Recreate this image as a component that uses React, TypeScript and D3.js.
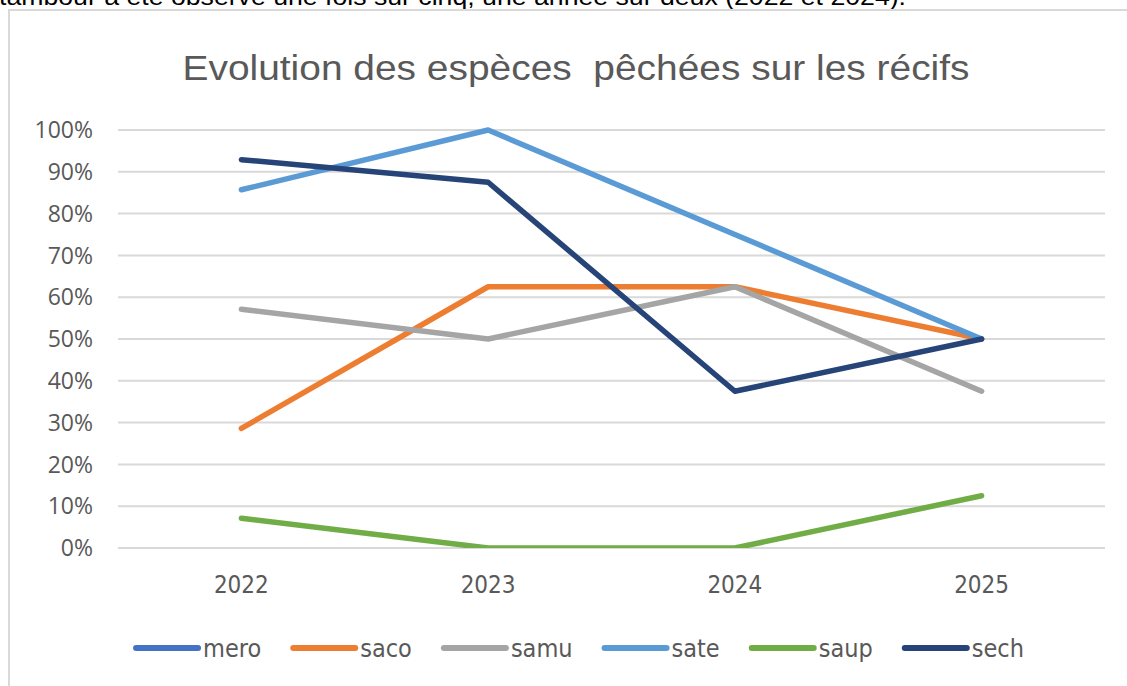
import React, { useEffect, useRef } from 'react';
import * as d3 from 'd3';

const years = ['2022', '2023', '2024', '2025'];
const seriesNames = ['mero', 'saco', 'samu', 'sate', 'saup', 'sech'];
const mero: (number | null)[] = [null, null, null, null];
const saco = [0.286, 0.625, 0.625, 0.5];
const samu = [0.571, 0.5, 0.625, 0.375];
const sate = [0.857, 1.0, 0.75, 0.5];
const saup = [0.071, 0, 0, 0.125];
const sech = [0.929, 0.875, 0.375, 0.5];
const yTicks = [0, 0.1, 0.2, 0.3, 0.4, 0.5, 0.6, 0.7, 0.8, 0.9, 1.0];
const colors = ['#4472C4', '#ED7D31', '#A5A5A5', '#5B9BD5', '#70AD47', '#264478'];

const W = 1127;
const H = 686;

const App = () => {
  const svgRef = useRef<SVGSVGElement>(null);

  useEffect(() => {
    const svg = d3.select(svgRef.current);
    svg.selectAll('*').remove();

    const narrow = '"Liberation Sans Narrow", "Arial Narrow", "DejaVu Sans Condensed", sans-serif';
    const textGray = '#595959';

    // text of the document above the chart, cut at the top
    svg.append('text')
      .attr('x', -1)
      .attr('y', 5)
      .attr('textLength', 907)
      .attr('lengthAdjust', 'spacingAndGlyphs')
      .style('font-family', '"Liberation Sans", Arial, sans-serif')
      .style('font-size', '23px')
      .style('fill', '#000')
      .text('tambour a été observé une fois sur cinq, une année sur deux (2022 et 2024).');

    // chart frame
    svg.append('rect')
      .attr('x', 9).attr('y', 10)
      .attr('width', W).attr('height', H)
      .attr('fill', '#fff')
      .attr('stroke', '#d9d9d9')
      .attr('stroke-width', 2);

    svg.append('text')
      .attr('x', 576)
      .attr('y', 80)
      .attr('text-anchor', 'middle')
      .attr('textLength', 787)
      .attr('lengthAdjust', 'spacingAndGlyphs')
      .style('font-family', '"Liberation Sans", Arial, sans-serif')
      .style('font-size', '35px')
      .style('fill', textGray)
      .style('white-space', 'pre')
      .text('Evolution des espèces  pêchées sur les récifs');

    const x = d3.scaleBand().domain(years).range([118, 1105]).padding(0);
    const cx = (d: string) => (x(d) as number) + x.bandwidth() / 2;
    const y = d3.scaleLinear().domain([0, 1]).range([548, 130]);

    // grid
    svg.append('g')
      .selectAll('line')
      .data(yTicks)
      .enter()
      .append('line')
      .attr('x1', 118).attr('x2', 1105)
      .attr('y1', d => y(d)).attr('y2', d => y(d))
      .attr('stroke', '#d9d9d9')
      .attr('stroke-width', 2);

    // y labels
    svg.append('g')
      .selectAll('text')
      .data(yTicks)
      .enter()
      .append('text')
      .attr('x', 93)
      .attr('y', d => y(d))
      .attr('dy', '0.36em')
      .attr('text-anchor', 'end')
      .style('font-family', '"Open Sans", sans-serif')
      .style('font-size', '23px')
      .style('fill', textGray)
      .text(d => d3.format('.0%')(d));

    // x labels
    svg.append('g')
      .selectAll('text')
      .data(years)
      .enter()
      .append('text')
      .attr('x', d => cx(d))
      .attr('y', 593)
      .attr('text-anchor', 'middle')
      .attr('textLength', 55)
      .attr('lengthAdjust', 'spacingAndGlyphs')
      .style('font-family', narrow)
      .style('font-size', '25px')
      .style('fill', textGray)
      .text(d => d);

    svg.append('clipPath')
      .attr('id', 'plotClip')
      .append('rect')
      .attr('x', 100).attr('y', 100)
      .attr('width', 1020).attr('height', 548 - 100);

    const allSeries = [mero, saco, samu, sate, saup, sech];
    const line = d3.line<number | null>()
      .defined(d => d !== null)
      .x((_, i) => cx(years[i]))
      .y(d => y(d as number));

    const lines = svg.append('g').attr('clip-path', 'url(#plotClip)');
    allSeries.forEach((vals, i) => {
      lines.append('path')
        .attr('d', line(vals))
        .attr('fill', 'none')
        .attr('stroke', colors[i])
        .attr('stroke-width', 5.5)
        .attr('stroke-linecap', 'round')
        .attr('stroke-linejoin', 'round');
    });

    // legend, centred under the chart
    const legend = svg.append('g');
    const lineLen = 62;
    const items = seriesNames.map((name, i) => {
      const g = legend.append('g');
      g.append('line')
        .attr('x1', 0).attr('x2', lineLen)
        .attr('y1', 0).attr('y2', 0)
        .attr('stroke', colors[i])
        .attr('stroke-width', 6)
        .attr('stroke-linecap', 'round');
      const t = g.append('text')
        .attr('x', lineLen + 5)
        .attr('dy', '0.35em')
        .style('font-family', narrow)
        .style('font-size', '25px')
        .style('fill', textGray)
        .text(name);
      const w = (t.node() as SVGTextElement).getComputedTextLength();
      return { g, w: lineLen + 5 + w };
    });
    const gap = 32;
    const total = d3.sum(items, d => d.w) + gap * (items.length - 1);
    let pos = 580 - total / 2;
    items.forEach(it => {
      it.g.attr('transform', `translate(${pos},648)`);
      pos += it.w + gap;
    });
  }, []);

  return (
    <svg
      ref={svgRef}
      width={W}
      height={H}
      style={{ position: 'absolute', left: 0, top: 0, background: '#fff' }}
    />
  );
};

export default App;
